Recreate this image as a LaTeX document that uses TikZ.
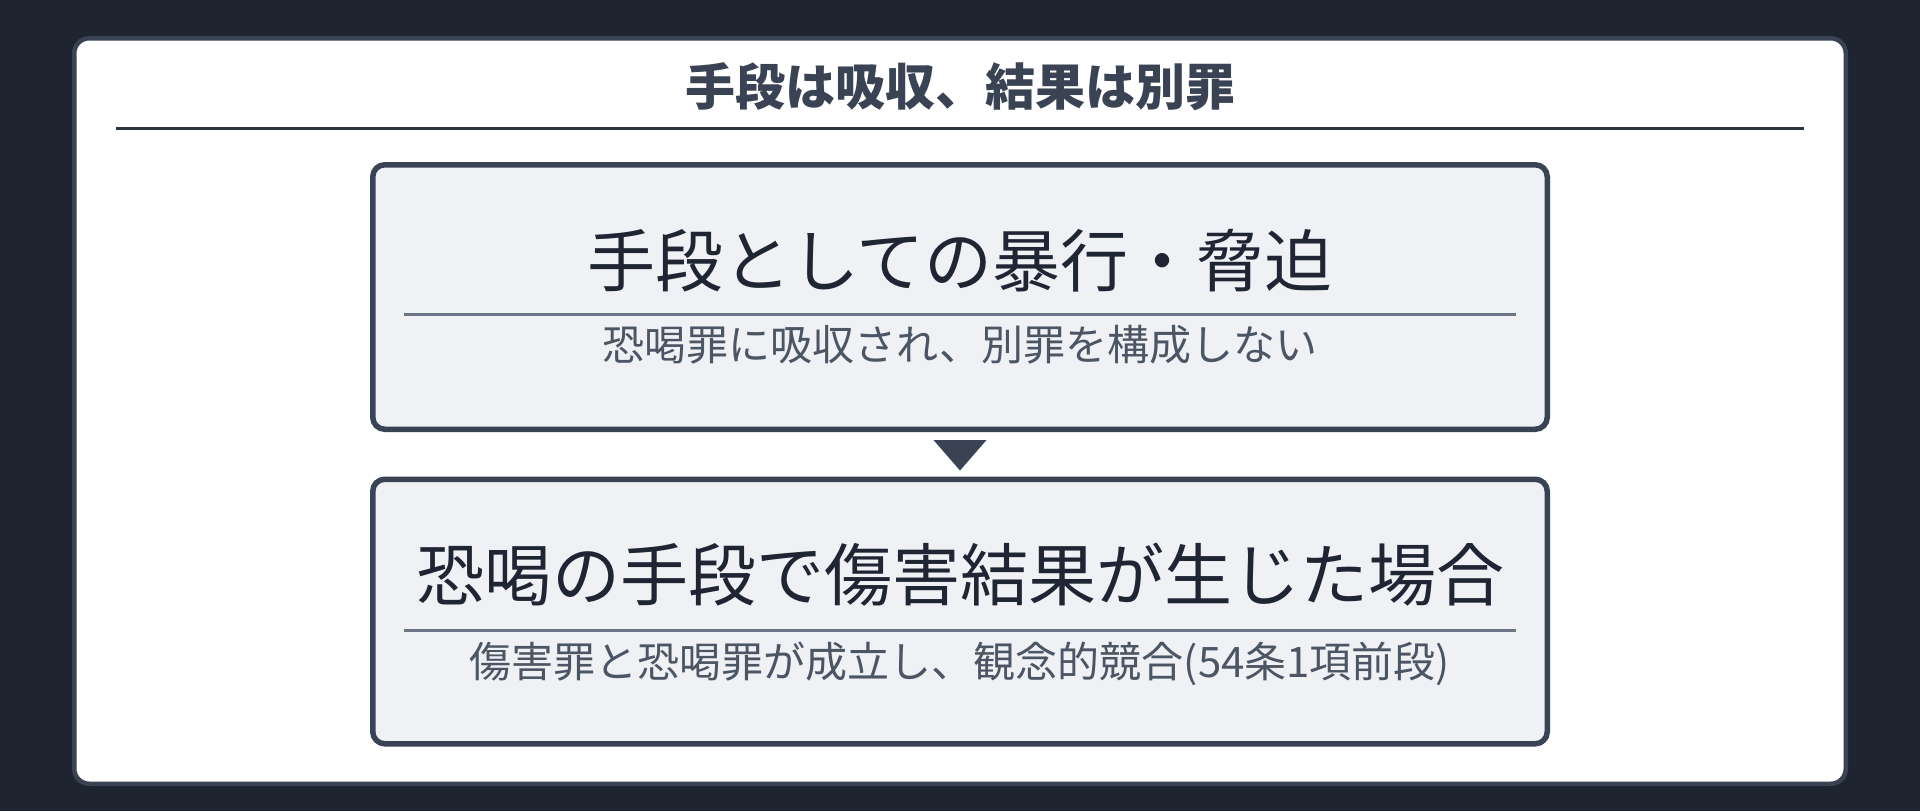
\documentclass[tikz,border=0pt]{standalone}
\usepackage{fontspec}
\newfontfamily\jp{Noto Sans CJK JP}
\usetikzlibrary{calc}
\definecolor{bgc}{HTML}{1E2430}
\definecolor{edgec}{HTML}{3A4353}
\definecolor{titlec}{HTML}{3A4353}
\definecolor{rulec}{HTML}{2D3441}
\definecolor{boxfill}{HTML}{EFF1F5}
\definecolor{headc}{HTML}{1F2533}
\definecolor{subc}{HTML}{4B5563}
\definecolor{thinrule}{HTML}{6B7585}
\tikzset{
  panelbox/.style={draw=edgec, fill=white, line width=2.25pt, rounded corners=7.5pt,
    minimum width=885.75pt, minimum height=372.75pt, inner sep=0pt},
  stagebox/.style={draw=edgec, fill=boxfill, line width=2.75pt, rounded corners=6pt,
    minimum width=587.25pt, minimum height=132.25pt, inner sep=0pt},
  maintitle/.style={font=\jp\bfseries\fontsize{25}{30}\selectfont, text=titlec, anchor=base, inner sep=0pt},
  headtext/.style={font=\jp\fontsize{34}{40}\selectfont, text=headc, anchor=base, inner sep=0pt},
  subtext/.style={font=\jp\fontsize{21}{26}\selectfont, text=subc, anchor=base, inner sep=0pt},
  divider/.style={draw=thinrule, line width=1.25pt},
  titlerule/.style={draw=rulec, line width=1.5pt},
  flowtri/.style={fill=edgec},
}
\begin{document}
\begin{tikzpicture}[x=0.5pt,y=-0.5pt]
\fill[bgc] (0,0) rectangle (1920,811);
\useasboundingbox (0,0) rectangle (1920,811);
\node[panelbox] (panel) at (960,411) {};
\node[maintitle] (title) at (960,105.5) {手段は吸収、結果は別罪};
\coordinate (trl) at (116,128.6);
\coordinate (trr) at (1804,128.6);
\draw[titlerule] (trl) -- (trr);

\node[stagebox] (b1) at (960,297) {};
\node[headtext] (h1) at (960,286) {手段としての暴行・脅迫};
\coordinate (r1l) at (404,314.7);
\coordinate (r1r) at (1516,314.7);
\draw[divider] (r1l) -- (r1r);
\node[subtext] (s1) at (960,360) {恐喝罪に吸収され、別罪を構成しない};

\node[stagebox] (b2) at (960,611.5) {};
\node[headtext] (h2) at (960,600) {恐喝の手段で傷害結果が生じた場合};
\coordinate (r2l) at (404,630.6);
\coordinate (r2r) at (1516,630.6);
\draw[divider] (r2l) -- (r2r);
\node[subtext] (s2) at (960,677) {傷害罪と恐喝罪が成立し、観念的競合(54条1項前段)};

\fill[flowtri] ($(b1.south)+(-26.5,8)$) -- ($(b1.south)+(26.5,8)$) -- ($(b2.north)+(0,-6)$) -- cycle;
\end{tikzpicture}
\end{document}
